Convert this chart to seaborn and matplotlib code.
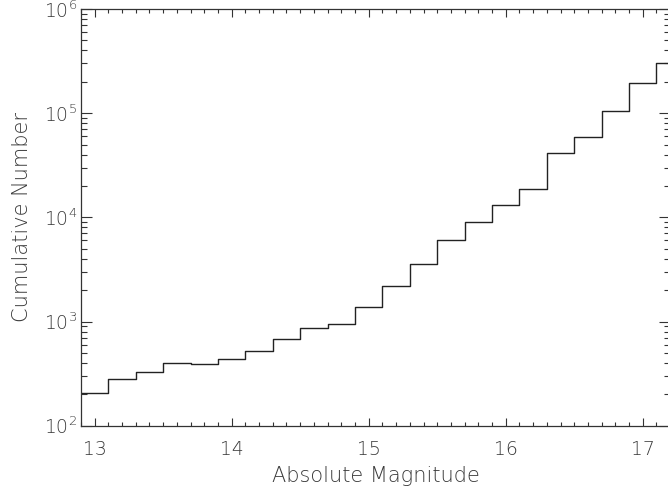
import numpy as np
import pandas as pd
import matplotlib
matplotlib.use("Agg")
import matplotlib.pyplot as plt
import matplotlib.ticker as mticker
import seaborn as sns

# Data (bin start in absolute magnitude, cumulative count)
mag_bins = [12.9, 13.1, 13.3, 13.5, 13.7, 13.9, 14.1, 14.3, 14.5, 14.7, 14.9,
            15.1, 15.3, 15.5, 15.7, 15.9, 16.1, 16.3, 16.5, 16.7, 16.9, 17.1]
cum_number = [207, 283, 328, 397, 388, 441, 525, 675, 861, 940, 1377,
              2206, 3562, 6055, 9074, 13130, 18570, 41690, 59390, 104700, 193200, 304600]
bin_width = 0.2
x_ticks = [13, 14, 15, 16, 17]
y_ticks = [1e2, 1e3, 1e4, 1e5, 1e6]
y_tick_labels = [r"$10^{2}$", r"$10^{3}$", r"$10^{4}$", r"$10^{5}$", r"$10^{6}$"]

sns.set_theme(style="ticks")
plt.rcParams["font.family"] = ["DejaVu Sans"]
plt.rcParams["font.weight"] = "light"
plt.rcParams["mathtext.fontset"] = "custom"
plt.rcParams["mathtext.rm"] = "DejaVu Sans:light"
plt.rcParams["mathtext.it"] = "DejaVu Sans:light"
plt.rcParams["mathtext.default"] = "rm"

# add closing edge of last bin for the step outline
xs = list(mag_bins) + [mag_bins[-1] + bin_width]
ys = list(cum_number) + [cum_number[-1]]
df = pd.DataFrame({"mag": xs, "num": ys})

fig = plt.figure(figsize=(6.68, 4.88), dpi=100)
ax = fig.add_axes([81 / 668, (488 - 425.7) / 488, (670.1 - 81) / 668, (425.7 - 9) / 488])

sns.lineplot(data=df, x="mag", y="num", drawstyle="steps-post", estimator=None,
             color="#222222", linewidth=1.0, ax=ax)

ax.set_yscale("log")
ax.set_xlim(12.9, 17.2)
ax.set_ylim(1e2, 1e6)

ax.set_xticks(x_ticks)
ax.set_xticklabels([str(t) for t in x_ticks])
ax.xaxis.set_minor_locator(mticker.MultipleLocator(0.1))
ax.set_yticks(y_ticks)
ax.set_yticklabels(y_tick_labels)
ax.yaxis.set_minor_locator(mticker.LogLocator(base=10, subs=np.arange(2, 10)))
ax.yaxis.set_minor_formatter(mticker.NullFormatter())

txt_col = "#3a3a3a"
ax.tick_params(axis="both", which="both", direction="in", top=True, right=True,
               color="#333333", width=0.8, labelcolor=txt_col)
ax.tick_params(axis="x", which="major", length=5.5, labelsize=13.5, pad=10.5)
ax.tick_params(axis="x", which="minor", length=3)
ax.tick_params(axis="y", which="major", length=8, labelsize=13.5, pad=3)
ax.tick_params(axis="y", which="minor", length=4)

for s in ax.spines.values():
    s.set_color("#333333")
    s.set_linewidth(0.9)

ax.set_xlabel("Absolute Magnitude", fontsize=15, color=txt_col, labelpad=5,
              fontweight="light")
ax.set_ylabel("Cumulative Number", fontsize=15, color=txt_col, labelpad=8,
              fontweight="light")

fig.savefig("out.png", dpi=100)
